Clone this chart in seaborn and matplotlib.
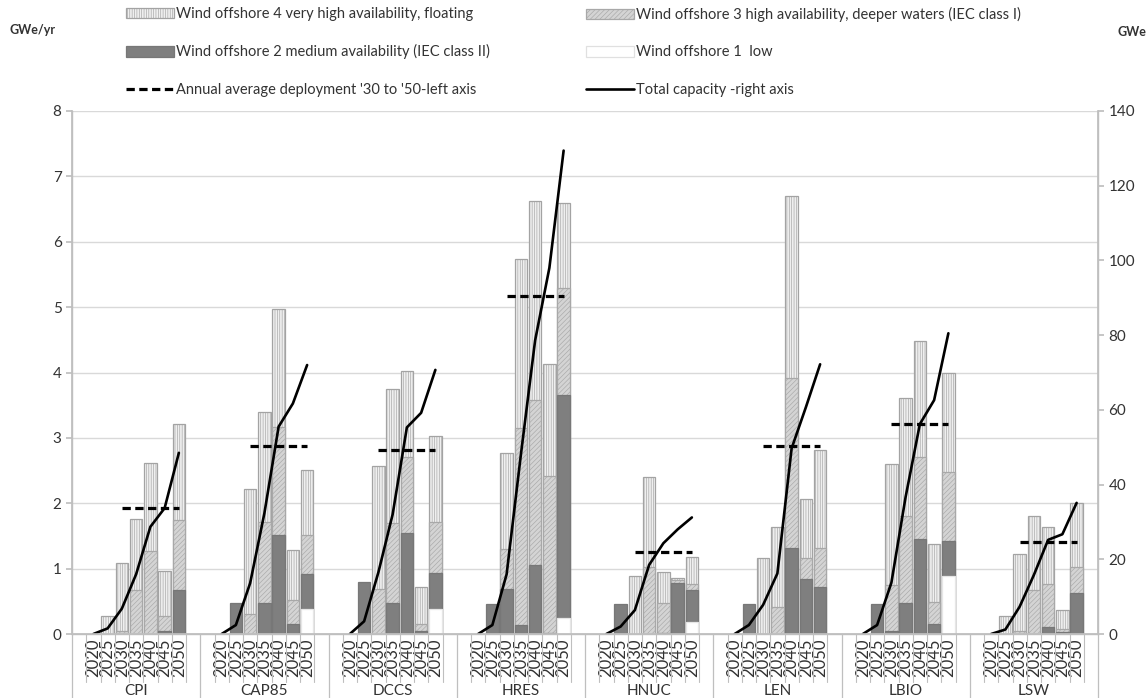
import numpy as np
import pandas as pd
import matplotlib
matplotlib.use("Agg")
import matplotlib.pyplot as plt
import matplotlib.transforms as mtransforms
from matplotlib.patches import Patch
from matplotlib.lines import Line2D
import seaborn as sns

# ---------------- data ----------------
scenarios = ["CPI", "CAP85", "DCCS", "HRES", "HNUC", "LEN", "LBIO", "LSW"]
years = [2020, 2025, 2030, 2035, 2040, 2045, 2050]

# GWe/yr, one row per scenario, columns = years
w1_low = [
    [0, 0, 0, 0, 0, 0, 0],
    [0, 0, 0, 0, 0, 0, 0.39],
    [0, 0, 0, 0, 0, 0, 0.38],
    [0, 0, 0, 0, 0, 0, 0.25],
    [0, 0, 0, 0, 0, 0, 0.18],
    [0, 0, 0, 0, 0, 0, 0],
    [0, 0, 0, 0, 0, 0, 0.89],
    [0, 0, 0, 0, 0, 0, 0],
]
w2_medium = [
    [0, 0, 0, 0, 0, 0.05, 0.67],
    [0, 0.47, 0, 0.47, 1.51, 0.16, 0.53],
    [0, 0.79, 0, 0.47, 1.55, 0.04, 0.56],
    [0, 0.46, 0.69, 0.14, 1.06, 0.02, 3.41],
    [0, 0.46, 0, 0, 0.02, 0.78, 0.49],
    [0, 0.46, 0, 0, 1.32, 0.84, 0.72],
    [0, 0.46, 0.04, 0.47, 1.45, 0.15, 0.53],
    [0, 0, 0, 0, 0.11, 0.03, 0.63],
]
w3_high = [
    [0, 0, 0.05, 0.67, 1.27, 0.23, 1.07],
    [0, 0, 0.31, 1.25, 1.65, 0.36, 0.59],
    [0, 0, 0.69, 1.23, 1.15, 0.12, 0.77],
    [0, 0, 0.61, 3.01, 2.52, 2.39, 1.63],
    [0, 0, 0, 1.03, 0.46, 0.04, 0.09],
    [0, 0, 0, 0.41, 2.59, 0.33, 0.60],
    [0, 0, 0.71, 1.33, 1.26, 0.34, 1.06],
    [0, 0, 0.04, 0.68, 0.65, 0.04, 0.40],
]
w4_very_high = [
    [0, 0.28, 1.04, 1.09, 1.35, 0.69, 1.47],
    [0, 0, 1.91, 1.68, 1.81, 0.77, 1.00],
    [0, 0, 1.88, 2.04, 1.32, 0.56, 1.32],
    [0, 0, 1.47, 2.59, 3.04, 1.72, 1.31],
    [0, 0, 0.88, 1.37, 0.47, 0.03, 0.42],
    [0, 0, 1.17, 1.23, 2.79, 0.90, 1.49],
    [0, 0, 1.85, 1.81, 1.77, 0.88, 1.51],
    [0, 0.28, 1.19, 1.12, 0.87, 0.29, 0.98],
]
# annual average deployment 2030-2050 (GWe/yr, left axis)
avg_deploy = [1.93, 2.88, 2.81, 5.17, 1.25, 2.88, 3.21, 1.41]
# total capacity (GWe, right axis)
total_cap = [
    [0, 1.5, 6.8, 16.0, 28.7, 33.7, 48.5],
    [0, 2.4, 13.6, 32.3, 55.5, 61.7, 72.0],
    [0, 3.4, 16.5, 32.0, 55.3, 59.2, 70.7],
    [0, 2.4, 16.0, 48.0, 78.6, 98.0, 129.4],
    [0, 2.0, 6.4, 18.5, 24.3, 28.0, 31.2],
    [0, 2.4, 7.8, 16.2, 49.7, 60.7, 72.2],
    [0, 2.4, 13.7, 36.7, 56.2, 62.6, 80.5],
    [0, 1.2, 7.3, 15.8, 25.2, 26.7, 35.1],
]

labels = {
    "w4": "Wind offshore 4 very high availability, floating",
    "w3": "Wind offshore 3 high availability, deeper waters (IEC class I)",
    "w2": "Wind offshore 2 medium availability (IEC class II)",
    "w1": "Wind offshore 1  low",
    "avg": "Annual average deployment '30 to '50-left axis",
    "tot": "Total capacity -right axis",
}

# ---------------- build tables ----------------
SLOTS = 9  # 7 years + 2 blank slots per scenario group
rows = []
for g, sc in enumerate(scenarios):
    for j, yr in enumerate(years):
        rows.append(dict(scenario=sc, year=yr, xpos=g * SLOTS + 1 + j,
                         w1=w1_low[g][j], w2=w2_medium[g][j],
                         w3=w3_high[g][j], w4=w4_very_high[g][j],
                         total=total_cap[g][j]))
df = pd.DataFrame(rows)
df["c1"] = df["w1"]
df["c2"] = df["c1"] + df["w2"]
df["c3"] = df["c2"] + df["w3"]
df["c4"] = df["c3"] + df["w4"]
# hide empty segments (no visible bar for a zero layer)
df["c1v"] = df["c1"].where(df["w1"] > 0)
df["c2v"] = df["c2"].where(df["w2"] > 0)
df["c3v"] = df["c3"].where(df["w3"] > 0)
df["c4v"] = df["c4"].where(df["w4"] > 0)

dash_rows = []
for g, sc in enumerate(scenarios):
    for j in (2, 6):  # spans 2030 .. 2050
        dash_rows.append(dict(scenario=sc, xpos=g * SLOTS + 1 + j, avg=avg_deploy[g]))
dfd = pd.DataFrame(dash_rows)

# ---------------- style ----------------
sns.set_theme(style="white")
plt.rcParams["font.family"] = ["Lato", "DejaVu Sans"]
plt.rcParams["hatch.linewidth"] = 0.45
TXT = "#333333"
GRID = "#d9d9d9"
AX = "#bfbfbf"

fig = plt.figure(figsize=(11.48, 6.98), dpi=100)
ax = fig.add_axes([72 / 1148, 64 / 698, (1098 - 72) / 1148, (634 - 111) / 698])

styles = {
    "c4": dict(color="#efefef", edgecolor="#a3a3a3", hatch="|||||||"),
    "c3": dict(color="#d4d4d4", edgecolor="#a8a8a8", hatch="///////"),
    "c2": dict(color="#7f7f7f", edgecolor="#777777", hatch=None),
    "c1": dict(color="#ffffff", edgecolor="#e6e6e6", hatch=None),
}
for col in ["c4", "c3", "c2", "c1"]:
    st = styles[col]
    sns.barplot(data=df, x="xpos", y=col + "v", native_scale=True, width=0.86,
                color=st["color"], saturation=1, edgecolor=st["edgecolor"],
                linewidth=0.9, hatch=st["hatch"], errorbar=None, ax=ax, zorder=2)

# dashed average deployment lines (left axis)
sns.lineplot(data=dfd, x="xpos", y="avg", units="scenario", estimator=None,
             color="black", lw=2.3, ax=ax, zorder=5, legend=False)
for ln in ax.get_lines():
    ln.set_dashes((2.6, 1.4))

ax.set_xlim(-0.5, len(scenarios) * SLOTS - 0.5)
ax.set_ylim(0, 8)
ax.set_yticks(range(0, 9))
ax.yaxis.grid(True, color=GRID, lw=1.0)
ax.xaxis.grid(False)
ax.set_axisbelow(True)
ax.set_xlabel("")
ax.set_ylabel("")
ax.set_xticks(df["xpos"])
ax.set_xticklabels([str(y) for y in df["year"]], rotation=90, fontsize=12, color=TXT)
ax.tick_params(axis="x", length=0, pad=3)
ax.tick_params(axis="y", length=4, color=AX, labelsize=11, labelcolor=TXT, direction="out", left=True)
ax.spines["top"].set_visible(False)
for s in ["left", "right", "bottom"]:
    ax.spines[s].set_color(AX)
    ax.spines[s].set_linewidth(1.0)

# secondary axis: total capacity
ax2 = ax.twinx()
sns.lineplot(data=df, x="xpos", y="total", units="scenario", estimator=None,
             color="black", lw=1.9, ax=ax2, legend=False)
ax2.set_ylim(0, 140)
ax2.set_yticks(range(0, 141, 20))
ax2.set_ylabel("")
ax2.set_xlabel("")
ax2.tick_params(axis="y", length=4, color=AX, labelsize=11, labelcolor=TXT, direction="out", right=True)
ax2.spines["top"].set_visible(False)
for s in ["left", "right", "bottom"]:
    ax2.spines[s].set_color(AX)
ax2.grid(False)
ax2.set_xlim(ax.get_xlim())

# category separators below the axis
trans = mtransforms.blended_transform_factory(ax.transData, ax.transAxes)
sep_short = -48 / 523
sep_long = -64 / 523
for g in range(len(scenarios)):
    for k in range(1, 9):
        x = g * SLOTS + k - 0.5
        ax.plot([x, x], [0, sep_short], transform=trans, clip_on=False, color=AX, lw=0.8)
for g in range(len(scenarios) + 1):
    x = g * SLOTS - 0.5
    ax.plot([x, x], [0, sep_long], transform=trans, clip_on=False, color=AX, lw=0.9)
for g, sc in enumerate(scenarios):
    ax.text(g * SLOTS + 4, -57 / 523, sc, transform=trans, ha="center", va="center",
            fontsize=11, color=TXT)

# unit labels
fig.text(10 / 1148, 1 - 30 / 698, "GWe/yr", fontsize=9, fontweight="bold", color=TXT, va="center")
fig.text(1117 / 1148, 1 - 32 / 698, "GWe", fontsize=9, fontweight="bold", color=TXT, va="center")

# legend
h_w4 = Patch(facecolor=styles["c4"]["color"], edgecolor=styles["c4"]["edgecolor"], hatch=styles["c4"]["hatch"], lw=0.9)
h_w3 = Patch(facecolor=styles["c3"]["color"], edgecolor=styles["c3"]["edgecolor"], hatch=styles["c3"]["hatch"], lw=0.9)
h_w2 = Patch(facecolor=styles["c2"]["color"], edgecolor=styles["c2"]["edgecolor"], lw=0.9)
h_w1 = Patch(facecolor="#ffffff", edgecolor="#e0e0e0", lw=0.9)
h_avg = Line2D([0], [0], color="black", lw=2.3, dashes=(2.6, 1.4))
h_tot = Line2D([0], [0], color="black", lw=1.9)
leg_kw = dict(loc="upper left", frameon=False, fontsize=10.5, labelspacing=1.6,
              handlelength=3.3, handleheight=0.75, handletextpad=0.15,
              borderpad=0, borderaxespad=0, labelcolor=TXT)
fig.legend(handles=[h_w4, h_w2, h_avg], labels=[labels["w4"], labels["w2"], labels["avg"]],
           bbox_to_anchor=(126 / 1148, 1 - 7 / 698), **leg_kw)
fig.legend(handles=[h_w3, h_w1, h_tot], labels=[labels["w3"], labels["w1"], labels["tot"]],
           bbox_to_anchor=(586 / 1148, 1 - 7 / 698), **leg_kw)

fig.savefig("out.png", dpi=100, facecolor="white")
